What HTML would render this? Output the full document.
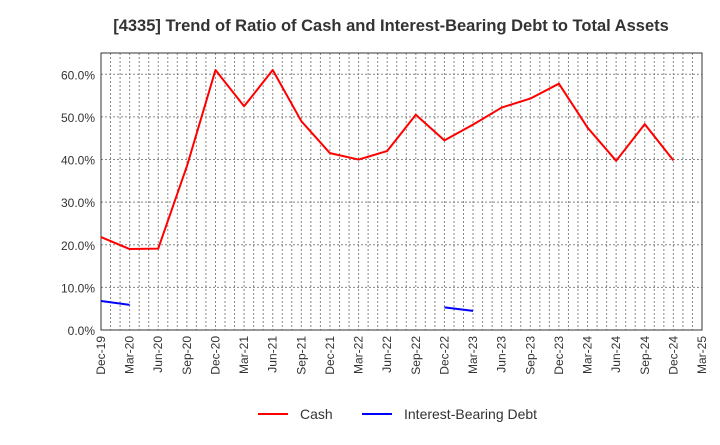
<!DOCTYPE html>
<html><head><meta charset="utf-8"><style>
body{margin:0;background:#fff;font-family:"Liberation Sans",sans-serif}
</style></head><body>
<svg id="c" width="720" height="440" xmlns="http://www.w3.org/2000/svg">
<text x="391" y="31" text-anchor="middle" font-size="16.5" font-weight="bold" fill="#333">[4335]  Trend of Ratio of Cash and Interest-Bearing Debt to Total Assets</text>
<g id="grid"></g><g id="axes"></g><g id="series"></g>
<g>
<line x1="258" y1="414" x2="288" y2="414" stroke="#f00" stroke-width="2"/>
<text x="300" y="419" font-size="14" fill="#333">Cash</text>
<line x1="362" y1="414" x2="392" y2="414" stroke="#00f" stroke-width="2"/>
<text x="404" y="419" font-size="14" fill="#333">Interest-Bearing Debt</text>
</g>
</svg>
<script>
const categories=["Dec-19","Mar-20","Jun-20","Sep-20","Dec-20","Mar-21","Jun-21","Sep-21","Dec-21","Mar-22","Jun-22","Sep-22","Dec-22","Mar-23","Jun-23","Sep-23","Dec-23","Mar-24","Jun-24","Sep-24","Dec-24","Mar-25"];
const cash=[21.8,19.0,19.1,38.4,61.0,52.5,61.0,49.0,41.5,40.0,42.0,50.5,44.5,48.2,52.2,54.3,57.8,47.5,39.7,48.3,39.8,null];
const debt=[6.8,5.9,null,null,null,null,null,null,null,null,null,null,5.3,4.5,null,null,null,null,null,null,null,null];
const yTicks=[0,10,20,30,40,50,60];
const X0=101,X1=702,Y0=330,Y1=53,YMAX=65;
const NS="http://www.w3.org/2000/svg";
const xs=i=>X0+(X1-X0)*i/(categories.length-1);
const ys=v=>Y0-(Y0-Y1)*v/YMAX;
function mk(p,t,a){const e=document.createElementNS(NS,t);for(const k in a)e.setAttribute(k,a[k]);document.getElementById(p).appendChild(e);return e;}
const n=categories.length-1;
for(let j=1;j<n*3;j++){const x=X0+(X1-X0)*j/(n*3);
const l=mk('grid','line',{x1:x,x2:x,y1:Y1,y2:Y0,stroke:'#888','stroke-dasharray':'2,2','stroke-width':1});

}
yTicks.forEach(v=>{const y=ys(v);
if(v>0){const g=mk('grid','line',{x1:X0,x2:X1,y1:y,y2:y,stroke:'#888','stroke-dasharray':'2,2'});

}
const t=mk('axes','text',{x:X0-6,y:y+5,'text-anchor':'end','font-size':12,fill:'#333'});t.textContent=v.toFixed(1)+'%';

});
const fr=mk('axes','rect',{x:X0,y:Y1,width:X1-X0,height:Y0-Y1,fill:'none',stroke:'#333','stroke-width':1});


categories.forEach((c,i)=>{const x=xs(i);
const t=mk('axes','text',{x:0,y:0,'text-anchor':'end','font-size':12,fill:'#333',transform:`translate(${x+4},${Y0+6}) rotate(-90)`});t.textContent=c;

});
function draw(arr,col,name){let d='',pen=false;arr.forEach((v,i)=>{if(v==null){pen=false;return;}d+=(pen?'L':'M')+xs(i)+','+ys(v);pen=true;});
const p=mk('series','path',{d:d,fill:'none',stroke:col,'stroke-width':2,'stroke-linejoin':'round'});

}
draw(cash,'#f00','cash-line');draw(debt,'#00f','debt-line');
</script>
</body></html>
